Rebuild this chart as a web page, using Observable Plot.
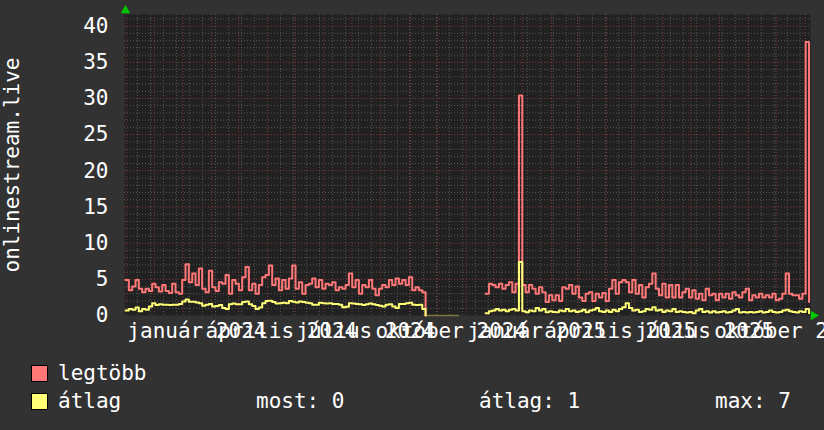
<!DOCTYPE html>
<html><head><meta charset="utf-8">
<script src="https://cdn.jsdelivr.net/npm/d3@7"></script>
<script src="https://cdn.jsdelivr.net/npm/@observablehq/plot@0.6"></script>
<style>
html,body{margin:0;padding:0;background:#323232;}
body{width:824px;height:430px;overflow:hidden;font-family:"DejaVu Sans Mono",monospace;color:#fff;}
#chart svg{display:block;}
#legend{position:relative;width:824px;height:80px;font-size:21px;}
.sw{position:absolute;width:15px;height:15px;border:1px solid #000;}
.lt{position:absolute;line-height:21px;white-space:pre;}
</style></head><body>
<div id="chart"></div>
<div id="legend"></div>
<script>
// ---- data ----
const yLabel = "onlinestream.live";
const seriesNames = ["legtöbb", "átlag"];
const seriesColors = ["#ff7777", "#ffff77"];
const legendStats = ["most: 0", "átlag: 1", "max: 7"];
const xDomain = ["2023-10-30", "2025-11-07"];
const yDomain = [0, 41.6];
const yTicks = [0, 5, 10, 15, 20, 25, 30, 35, 40];
const xLabels = ["január 2024", "április 2024", "július 2024", "október 2024",
                 "január 2025", "április 2025", "július 2025", "október 2025"];
const xLabelDates = ["2024-01-16", "2024-04-16", "2024-07-16", "2024-10-16",
                     "2025-01-16", "2025-04-16", "2025-07-16", "2025-10-16"];
const minorGridAnchor = "2024-09-16"; // biweekly minor vertical grid
const stepHours = 86.2;               // sample spacing
const seg1Start = "2023-10-31T02:00:00Z";
const seg1Max = [4.9,3.5,4.0,4.9,3.7,3.2,3.7,3.4,4.4,3.9,3.3,4.2,3.4,3.1,4.4,3.2,3.0,4.9,7.1,4.6,
  5.8,4.2,6.5,3.7,3.2,6.2,3.9,3.4,4.6,4.4,5.6,3.0,4.9,4.4,3.5,5.3,6.7,3.5,4.4,3.0,
  4.2,5.3,5.6,6.9,4.2,5.1,3.5,4.9,3.7,5.1,6.9,3.7,4.6,3.0,4.2,4.4,5.1,3.9,4.9,3.7,
  4.4,4.2,4.6,3.5,3.9,3.7,4.2,5.8,3.9,4.9,3.0,4.2,3.9,4.9,3.7,2.8,3.7,4.2,3.9,4.9,
  4.2,5.1,4.4,4.9,4.2,5.3,3.5,3.9,3.5,3.2,0];
const seg1Avg = [0.7,0.9,0.8,1.1,0.6,0.9,0.8,1.25,1.7,1.45,1.55,1.5,1.5,1.45,1.5,1.5,1.6,1.95,2.2,1.9,
  1.9,1.8,1.7,1.35,1.5,1.6,1.25,1.3,1.45,1.05,0.9,1.55,1.65,1.55,1.55,1.85,1.95,1.55,1.3,0.9,
  1.1,1.7,2.0,2.05,1.85,1.65,1.7,1.75,1.7,2.0,1.9,1.8,1.95,1.85,1.75,1.7,1.5,1.5,1.75,1.7,
  1.65,1.7,1.6,1.6,1.5,1.15,1.2,1.7,1.65,1.6,1.55,1.45,1.55,1.65,1.55,1.45,1.35,1.25,1.5,1.55,
  1.25,1.05,1.6,1.6,1.7,1.75,1.5,1.45,1.5,0.9,0];
const flatSpan = ["2024-09-18", "2024-10-24"];
const seg2Start = "2024-11-22T00:00:00Z";
const seg2Max = [3.0,4.4,4.2,3.9,4.4,3.7,4.2,4.6,3.2,4.4,30.4,4.2,3.2,4.2,3.7,3.0,3.9,3.2,1.85,2.8,
  2.1,2.8,2.0,3.9,3.7,4.2,3.0,4.0,2.5,2.0,3.0,3.2,2.0,3.0,2.5,3.1,2.0,3.7,4.9,3.0,
  4.6,4.9,4.6,3.2,4.9,3.0,4.2,2.5,3.9,4.4,5.8,3.7,2.8,4.4,2.5,4.2,2.5,4.2,2.5,3.2,
  3.7,2.5,3.5,2.3,3.0,2.1,3.7,2.8,3.0,2.1,3.0,2.5,3.0,2.3,3.2,2.8,2.5,3.2,3.7,2.1,
  2.8,2.5,3.0,2.5,2.8,2.5,3.0,2.1,2.3,3.0,5.8,3.0,2.8,2.8,2.3,3.0,37.8,1.85];
const seg2Avg = [0.3,0.6,0.7,0.9,0.7,0.8,0.6,0.8,0.9,0.7,7.4,0.6,0.45,0.7,0.6,1.05,0.7,0.9,0.45,0.6,
  0.5,0.45,0.7,0.6,0.9,0.6,0.7,0.5,0.6,0.8,0.45,0.7,0.8,1.05,0.6,0.5,0.7,0.5,0.8,0.6,
  0.9,1.15,1.7,1.05,0.7,0.8,0.5,0.6,0.9,0.8,1.15,0.7,0.8,0.5,0.7,0.6,0.9,0.5,0.6,0.5,
  0.4,0.5,0.3,0.7,0.9,0.5,0.6,0.4,0.6,0.4,0.5,0.6,0.4,0.5,0.7,0.9,0.4,0.5,0.4,0.5,
  0.4,0.5,0.6,0.4,0.5,0.7,0.5,0.4,0.5,0.7,0.8,0.6,0.5,0.4,0.6,0.5,0.9,0.3];

// ---- build table ----
const parse = s => new Date(s);
function rows(start, vals, series, seg) {
  const t0 = Date.parse(start);
  return vals.map((v, i) => ({date: new Date(t0 + i * stepHours * 3600e3), value: v, series, seg}));
}
const data = [
  ...rows(seg1Start, seg1Max, seriesNames[0], "a0"),
  ...rows(seg2Start, seg2Max, seriesNames[0], "b0"),
  ...rows(seg1Start, seg1Avg, seriesNames[1], "a1"),
  ...rows(seg2Start, seg2Avg, seriesNames[1], "b1")
];
const flatRows = flatSpan.map(d => ({date: parse(d), value: 0}));

const x0 = parse(xDomain[0]), x1 = parse(xDomain[1]);
const monthGrid = d3.utcMonth.range(x0, x1);
const anchor = parse(minorGridAnchor);
const minorGrid = [];
for (let k = -60; k <= 60; k++) {
  const d = d3.utcDay.offset(anchor, 14 * k);
  if (d > x0 && d < x1) minorGrid.push(d);
}
const yMinor = d3.range(yDomain[0], Math.floor(yDomain[1]) + 1, 1).filter(v => v % 5 !== 0);
const yMajor = yTicks;

const W = 824, H = 350;
const chart = Plot.plot({
  width: W, height: H,
  marginLeft: 124, marginRight: 14, marginTop: 14, marginBottom: 35,
  style: {background: "#323232", color: "#ffffff", fontFamily: "'DejaVu Sans Mono', monospace", overflow: "visible"},
  x: {type: "utc", domain: [x0, x1]},
  y: {domain: yDomain},
  color: {domain: seriesNames, range: seriesColors},
  marks: [
    Plot.frame({fill: "#212121", stroke: null}),
    Plot.ruleY(yMinor, {stroke: "#555555", strokeWidth: 1, strokeDasharray: "1,2"}),
    Plot.ruleX(minorGrid, {stroke: "#555555", strokeWidth: 1, strokeDasharray: "1,2"}),
    Plot.ruleY(yMajor.filter(v => v > 0), {stroke: "#843838", strokeWidth: 1, strokeDasharray: "1,2"}),
    Plot.ruleX(monthGrid, {stroke: "#843838", strokeWidth: 1, strokeDasharray: "1,2"}),
    Plot.line(flatRows, {x: "date", y: "value", stroke: "#7a7740", strokeWidth: 1.5}),
    Plot.line(data, {x: "date", y: "value", z: "seg", stroke: "series", strokeWidth: 2, curve: "step-after"}),
    Plot.axisY(yTicks, {tickSize: 0, tickPadding: 16, fontSize: 21, label: null}),
    Plot.axisX(xLabelDates.map(parse), {tickSize: 0, tickPadding: 8, fontSize: 21, label: null,
      tickFormat: (d, i) => xLabels[i]}),
    Plot.text([yLabel], {frameAnchor: "left", text: d => d, rotate: -90, textAnchor: "middle", dx: -112, fontSize: 21, fill: "#ffffff"}),
    Plot.dot([0], {frameAnchor: "top-left", symbol: "triangle", r: 3.5, fill: "#00c800", stroke: null, dx: 1, dy: -4}),
    Plot.dot([0], {frameAnchor: "bottom-right", symbol: "triangle", rotate: 90, r: 3.5, fill: "#00c800", stroke: null, dx: 3, dy: 0})
  ]
});
document.getElementById("chart").appendChild(chart);

// ---- legend ----
const lg = document.getElementById("legend");
function add(html, cls, left, top, extra) {
  const el = document.createElement("div");
  el.className = cls; el.style.left = left + "px"; el.style.top = top + "px";
  if (extra) Object.assign(el.style, extra);
  el.textContent = html; lg.appendChild(el);
}
add("", "sw", 31, 15, {background: seriesColors[0]});
add(seriesNames[0], "lt", 58, 13);
add("", "sw", 31, 43, {background: seriesColors[1]});
add(seriesNames[1], "lt", 58, 41);
add(legendStats[0], "lt", 256, 41);
add(legendStats[1], "lt", 479, 41);
add(legendStats[2], "lt", 715, 41);
</script>
</body></html>
